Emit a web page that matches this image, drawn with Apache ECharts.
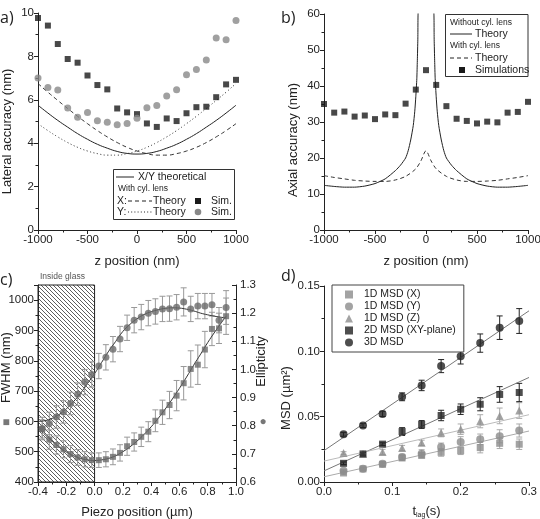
<!doctype html>
<html>
<head>
<meta charset="UTF-8">
<title>Localization accuracy and MSD</title>
<script src="https://cdn.jsdelivr.net/npm/echarts@6/dist/echarts.min.js"></script>
<style>
    html, body {margin: 0; padding: 0; background: #fff;}
    #main {width: 540px; height: 519px;}
</style>
</head>
<body>
<div id="main"></div>
<script>
// ---- a) lateral accuracy ----
var zPos = [-1000, -900, -800, -700, -600, -500, -400, -300, -200, -100, 0, 100, 200, 300, 400, 500, 600, 700, 800, 900, 1000];
var xSimA = [9.77, 9.42, 8.57, 7.88, 7.71, 7.12, 6.68, 6.48, 5.6, 5.42, 5.34, 4.91, 4.75, 5.14, 5.02, 5.38, 5.66, 5.68, 6.12, 6.71, 6.92];
var ySimA = [7.0, 6.57, 6.45, 5.62, 5.2, 5.42, 5.03, 4.97, 4.85, 4.91, 5.15, 5.63, 5.74, 6.18, 6.46, 7.15, 7.4, 7.83, 8.85, 8.77, 9.66];
var xyTheoryA = [5.75, 5.39, 5.05, 4.74, 4.44, 4.18, 3.95, 3.77, 3.62, 3.53, 3.5, 3.53, 3.62, 3.77, 3.95, 4.18, 4.44, 4.74, 5.05, 5.39, 5.75];
var xTheoryA = [6.75, 6.35, 5.97, 5.6, 5.24, 4.9, 4.58, 4.29, 4.03, 3.81, 3.64, 3.52, 3.45, 3.45, 3.52, 3.64, 3.81, 4.03, 4.29, 4.58, 4.9];
var yTheoryA = [4.9, 4.58, 4.29, 4.03, 3.81, 3.64, 3.52, 3.45, 3.45, 3.52, 3.64, 3.81, 4.03, 4.29, 4.58, 4.9, 5.24, 5.6, 5.97, 6.35, 6.75];

// ---- b) axial accuracy ----
var simB = [35.0, 32.6, 32.9, 31.5, 31.8, 30.8, 32.1, 31.9, 35.1, 39.0, 44.4, 40.3, 34.4, 30.9, 30.3, 29.6, 30.1, 29.9, 32.6, 32.8, 35.6];
var lensZ = [-1000, -900, -800, -700, -600, -500, -400, -300, -200, -100, -50, 0, 50, 100, 200, 300, 400, 500, 600, 700, 800, 900, 1000];
var lensTheoryB = [15.1, 14.6, 14.2, 13.8, 13.6, 13.5, 13.5, 13.9, 14.9, 17.0, 19.2, 22, 19.2, 17.0, 14.9, 13.9, 13.5, 13.5, 13.6, 13.8, 14.2, 14.6, 15.1];
var noLensZ = [-1000, -900, -800, -700, -600, -500, -400, -300, -250, -200, -175, -150, -125, -110, -100, -90, -85, -80, -75,
    75, 80, 85, 90, 100, 110, 125, 150, 175, 200, 250, 300, 400, 500, 600, 700, 800, 900, 1000];
var noLensTheoryB = [12.4, 12.1, 11.9, 11.9, 12.2, 12.9, 14.2, 16.5, 18.0, 20.0, 22.0, 25.0, 29, 33, 37, 42, 47, 53, 61,
    61, 53, 47, 42, 37, 33, 29, 25.0, 22.0, 20.0, 18.0, 16.5, 14.2, 12.9, 12.2, 11.9, 11.9, 12.1, 12.4];

// ---- c) FWHM and ellipticity vs piezo position ----
var piezo = [-0.37, -0.32, -0.27, -0.22, -0.17, -0.12, -0.07, -0.02, 0.03, 0.08, 0.13, 0.18, 0.23, 0.28, 0.33, 0.38, 0.43, 0.48, 0.53, 0.58, 0.63, 0.68, 0.73, 0.78, 0.83, 0.88, 0.93];
var fwhm = [575, 540, 522, 508, 492, 481, 475, 472, 472, 475, 483, 496, 518, 532, 549, 566, 602, 630, 654, 685, 726, 773, 787, 837, 905, 907, 947];
var fwhmErr = [30, 32, 30, 28, 28, 26, 25, 24, 24, 25, 26, 27, 30, 30, 32, 33, 36, 40, 45, 50, 55, 60, 65, 60, 55, 50, 60];
var ellip = [0.79, 0.808, 0.831, 0.849, 0.879, 0.912, 0.955, 0.982, 1.012, 1.043, 1.072, 1.108, 1.148, 1.175, 1.186, 1.2, 1.206, 1.215, 1.216, 1.221, 1.24, 1.215, 1.225, 1.225, 1.23, 1.175, 1.22];
var ellipErr = [0.04, 0.04, 0.04, 0.04, 0.04, 0.04, 0.045, 0.045, 0.045, 0.045, 0.045, 0.045, 0.045, 0.045, 0.045, 0.045, 0.045, 0.045, 0.045, 0.045, 0.05, 0.045, 0.045, 0.045, 0.04, 0.045, 0.06];
var fitPiezo = [-0.4, -0.35, -0.3, -0.25, -0.2, -0.15, -0.1, -0.05, 0, 0.05, 0.1, 0.15, 0.2, 0.25, 0.3, 0.35, 0.4, 0.45, 0.5, 0.55, 0.6, 0.65, 0.7, 0.75, 0.8, 0.85, 0.9, 0.93];
var fwhmFit = [580, 556, 535, 516, 499, 487, 478, 473, 471, 473, 478, 487, 500, 516, 535, 557, 582, 610, 641, 674, 709, 746, 785, 822, 860, 895, 928, 947];
var ellipFit = [0.815, 0.818, 0.826, 0.84, 0.86, 0.885, 0.915, 0.95, 0.985, 1.025, 1.065, 1.1, 1.135, 1.16, 1.18, 1.195, 1.205, 1.212, 1.217, 1.219, 1.218, 1.214, 1.208, 1.2, 1.194, 1.189, 1.185, 1.183];

// ---- d) MSD vs lag time ----
var tLag = [0.0286, 0.0571, 0.0857, 0.1143, 0.1429, 0.1714, 0.2, 0.2286, 0.2571, 0.2857];
var msdX = [0.0069, 0.0100, 0.0135, 0.0184, 0.0204, 0.0227, 0.0240, 0.0263, 0.0296, 0.0289];
var msdXErr = [0.001, 0.001, 0.0015, 0.002, 0.002, 0.003, 0.003, 0.004, 0.004, 0.004];
var msdY = [0.0087, 0.0102, 0.0140, 0.0192, 0.0217, 0.0268, 0.0307, 0.0327, 0.0350, 0.0394];
var msdYErr = [0.001, 0.001, 0.0015, 0.002, 0.003, 0.003, 0.004, 0.004, 0.005, 0.005];
var msdZ = [0.0222, 0.0215, 0.0230, 0.0260, 0.0300, 0.0376, 0.0404, 0.0465, 0.0506, 0.0547];
var msdZErr = [0.001, 0.001, 0.002, 0.002, 0.002, 0.003, 0.004, 0.005, 0.006, 0.006];
var msd2D = [0.0143, 0.0215, 0.0290, 0.0386, 0.0440, 0.0509, 0.0557, 0.0595, 0.0670, 0.0685];
var msd2DErr = [0.001, 0.001, 0.001, 0.003, 0.003, 0.004, 0.004, 0.005, 0.006, 0.007];
var msd3D = [0.0365, 0.0432, 0.0521, 0.0652, 0.0739, 0.0887, 0.0963, 0.1063, 0.1181, 0.1232];
var msd3DErr = [0.0015, 0.0015, 0.002, 0.003, 0.004, 0.005, 0.006, 0.007, 0.009, 0.0095];
var fitT = [0, 0.3];
var fit3D = [0.024, 0.131];
var fit2D = [0.0085, 0.080];
var fitZ = [0.016, 0.0515];
var fitXY = [0.004, 0.039];

var FONT = 'Liberation Sans, Arial, sans-serif';
var INK = '#222';

function zip(xs, ys) {
    return xs.map(function (x, i) { return [x, ys[i]]; });
}
function zip3(xs, ys, es) {
    return xs.map(function (x, i) { return [x, ys[i], es[i]]; });
}

var plain = function (v) { return String(v); };
var f1 = function (v) { return v.toFixed(1); };
var f2 = function (v) { return v.toFixed(2); };

function valAxis(o, fmt, namePad) {
    var a = {
        type: 'value',
        splitLine: {show: false},
        axisLine: {show: true, onZero: false, lineStyle: {color: INK, width: 1}},
        axisTick: {show: true, length: 4, lineStyle: {color: INK}},
        minorTick: {show: true, splitNumber: 2, length: 2.5, lineStyle: {color: INK}},
        axisLabel: {color: INK, fontSize: 11.5, fontFamily: FONT, margin: 4, formatter: fmt || plain},
        nameLocation: 'middle',
        nameMoveOverlap: false,
        nameTextStyle: {color: INK, fontSize: 13, fontFamily: FONT, padding: namePad || 0}
    };
    for (var k in o) a[k] = o[k];
    return a;
}

// error bars with caps, drawn through the axis scales
function errBar(color, cap) {
    return function (params, api) {
        var x = api.value(0), y = api.value(1), e = api.value(2);
        var hi = api.coord([x, y + e]), lo = api.coord([x, y - e]);
        var st = {stroke: color, lineWidth: 1};
        return {
            type: 'group', children: [
                {type: 'line', shape: {x1: hi[0], y1: hi[1], x2: lo[0], y2: lo[1]}, style: st},
                {type: 'line', shape: {x1: hi[0] - cap, y1: hi[1], x2: hi[0] + cap, y2: hi[1]}, style: st},
                {type: 'line', shape: {x1: lo[0] - cap, y1: lo[1], x2: lo[0] + cap, y2: lo[1]}, style: st}
            ]
        };
    };
}

// hatch pattern for the "inside glass" region
var hatch = document.createElement('canvas');
hatch.width = 4;
hatch.height = 4;
var hg = hatch.getContext('2d');
hg.strokeStyle = '#333';
hg.lineWidth = 0.8;
hg.beginPath();
hg.moveTo(-1, -1); hg.lineTo(5, 5);
hg.moveTo(-1, 3); hg.lineTo(1, 5);
hg.moveTo(3, -1); hg.lineTo(5, 1);
hg.stroke();

function txt(x, y, s, size, opt) {
    opt = opt || {};
    return {
        type: 'text', x: x, y: y, z: 101, silent: true,
        style: {
            text: s, fontSize: size, fontFamily: opt.font || FONT, fill: opt.color || INK,
            align: opt.align || 'left', verticalAlign: 'middle'
        }
    };
}
function seg(x1, y1, x2, y2, dash) {
    return {
        type: 'line', z: 101, silent: true,
        shape: {x1: x1, y1: y1, x2: x2, y2: y2},
        style: {stroke: INK, lineWidth: 1, lineDash: dash || null}
    };
}

var myChart = echarts.init(document.getElementById('main'));

var option = {
    animation: false,
    grid: [
        {left: 38, top: 13, width: 198, height: 217, containLabel: false, outerBoundsMode: 'none'},
        {left: 324, top: 14, width: 204, height: 216, containLabel: false, outerBoundsMode: 'none'},
        {left: 38, top: 285, width: 198, height: 197, containLabel: false, outerBoundsMode: 'none'},
        {left: 324, top: 286, width: 205, height: 196, containLabel: false, outerBoundsMode: 'none'}
    ],
    xAxis: [
        valAxis({gridIndex: 0, min: -1000, max: 1000, interval: 500, name: 'z position (nm)', nameGap: 25}),
        valAxis({gridIndex: 1, min: -1000, max: 1000, interval: 500, name: 'z position (nm)', nameGap: 25}),
        valAxis({gridIndex: 2, min: -0.4, max: 1.0, interval: 0.2, name: 'Piezo position (µm)', nameGap: 24}, f1),
        valAxis({
            gridIndex: 3, min: 0, max: 0.3, interval: 0.1, nameGap: 21,
            name: '{t|t}{s|lag}{t|(s)}',
            nameTextStyle: {
                color: INK, fontFamily: FONT,
                rich: {t: {fontSize: 13, fontFamily: FONT, color: INK}, s: {fontSize: 7, fontFamily: FONT, color: INK, padding: [9, 0, 0, 0]}}
            }
        }, f1)
    ],
    yAxis: [
        valAxis({gridIndex: 0, min: 0, max: 10, interval: 2, name: 'Lateral accuracy (nm)', nameGap: 24}, plain, [0, 20, 0, 0]),
        valAxis({gridIndex: 1, min: 0, max: 60, interval: 10, name: 'Axial accuracy (nm)', nameGap: 24}, plain, [0, 36, 0, 0]),
        valAxis({gridIndex: 2, min: 400, max: 1050, interval: 100, nameGap: 25, name: 'FWHM (nm)'},
            function (v) { return v === 1050 ? '' : String(v); }, [0, 0, 0, 32]),
        valAxis({
            gridIndex: 2, position: 'right', min: 0.6, max: 1.3, interval: 0.1, nameGap: 19,
            axisTick: {show: true, inside: true, length: 4, lineStyle: {color: INK}},
            minorTick: {show: true, splitNumber: 2, length: 2.5, lineStyle: {color: INK}},
            name: 'Ellipticity'
        }, f1, [0, 0, 0, 44]),
        valAxis({gridIndex: 3, min: 0, max: 0.15, interval: 0.05, name: 'MSD (µm²)', nameGap: 31}, f2, [0, 28, 0, 0])
    ],
    legend: [{
        data: ['1D MSD (X)', '1D MSD (Y)', '1D MSD (Z)', '2D MSD (XY-plane)', '3D MSD'],
        orient: 'vertical', left: 332, top: 285,
        borderColor: '#444', borderWidth: 1, backgroundColor: '#fff',
        padding: [4, 8, 4, 13], itemGap: 1, itemWidth: 8, itemHeight: 8,
        selectedMode: false,
        textStyle: {fontSize: 10.5, color: INK, fontFamily: FONT, lineHeight: 11, padding: [0, 0, 0, 6]}
    }],
    graphic: [
        // panel letters
        txt(0, 18, 'a)', 16, {font: 'Open Sans'}),
        txt(281, 18, 'b)', 16, {font: 'Open Sans'}),
        txt(0, 280, 'c)', 16, {font: 'Open Sans'}),
        txt(281, 276, 'd)', 16, {font: 'Open Sans'}),
        txt(40, 277, 'Inside glass', 8.5, {color: '#555'}),
        // series markers beside the axis names of c)
        txt(6, 423, '■', 12, {color: '#777', align: 'center'}),
        txt(263, 422, '●', 12, {color: '#777', align: 'center'}),

        // legend a)
        {type: 'rect', z: 100, silent: true, shape: {x: 113.5, y: 169.5, width: 121, height: 50}, style: {fill: '#fff', stroke: '#333', lineWidth: 1}},
        seg(116, 177, 134, 177),
        txt(138, 177, 'X/Y theoretical', 10.5),
        txt(118, 189, 'With cyl. lens', 8.5),
        txt(117, 201, 'X:', 10.5),
        seg(128, 201, 152, 201, [4, 3]),
        txt(153, 201, 'Theory', 10.5),
        {type: 'rect', z: 101, silent: true, shape: {x: 195, y: 198, width: 6, height: 6}, style: {fill: '#1a1a1a'}},
        txt(211, 201, 'Sim.', 10.5),
        txt(117, 212, 'Y:', 10.5),
        seg(128, 212, 152, 212, [1, 2.2]),
        txt(153, 212, 'Theory', 10.5),
        {type: 'circle', z: 101, silent: true, shape: {cx: 198, cy: 212, r: 3.3}, style: {fill: '#888'}},
        txt(211, 212, 'Sim.', 10.5),

        // legend b)
        {type: 'rect', z: 100, silent: true, shape: {x: 445.5, y: 14.5, width: 82.5, height: 62}, style: {fill: '#fff', stroke: '#333', lineWidth: 1}},
        txt(450, 23, 'Without cyl. lens', 8.5),
        seg(450, 34, 472, 34),
        txt(475, 34, 'Theory', 10.5),
        txt(450, 46, 'With cyl. lens', 8.5),
        seg(450, 58, 472, 58, [4, 3]),
        txt(475, 58, 'Theory', 10.5),
        {type: 'rect', z: 101, silent: true, shape: {x: 459, y: 67, width: 6, height: 6}, style: {fill: '#1a1a1a'}},
        txt(475, 70, 'Simulations', 10.5)
    ],
    series: [
        // a)
        {type: 'line', xAxisIndex: 0, yAxisIndex: 0, data: zip(zPos, xyTheoryA), smooth: true, symbol: 'none', lineStyle: {color: INK, width: 1}},
        {type: 'line', xAxisIndex: 0, yAxisIndex: 0, data: zip(zPos, xTheoryA), smooth: true, symbol: 'none', lineStyle: {color: '#333', width: 1, type: [4, 3]}},
        {type: 'line', xAxisIndex: 0, yAxisIndex: 0, data: zip(zPos, yTheoryA), smooth: true, symbol: 'none', lineStyle: {color: '#333', width: 1, type: [1, 2.5]}},
        {type: 'scatter', xAxisIndex: 0, yAxisIndex: 0, data: zip(zPos, xSimA), symbol: 'rect', symbolSize: 6, itemStyle: {color: '#1a1a1a'}, z: 4},
        {type: 'scatter', xAxisIndex: 0, yAxisIndex: 0, data: zip(zPos, ySimA), symbol: 'circle', symbolSize: 7, itemStyle: {color: '#888'}, z: 4},

        // b)
        {type: 'line', xAxisIndex: 1, yAxisIndex: 1, data: zip(noLensZ, noLensTheoryB), smooth: 0.2, symbol: 'none', clip: true, lineStyle: {color: INK, width: 1}},
        {type: 'line', xAxisIndex: 1, yAxisIndex: 1, data: zip(lensZ, lensTheoryB), smooth: 0.3, symbol: 'none', lineStyle: {color: '#333', width: 1, type: [4, 3]}},
        {type: 'scatter', xAxisIndex: 1, yAxisIndex: 1, data: zip(zPos, simB), symbol: 'rect', symbolSize: 6, itemStyle: {color: '#1a1a1a'}, z: 4},

        // c)
        {
            type: 'line', xAxisIndex: 2, yAxisIndex: 2, data: zip(fitPiezo, fwhmFit), smooth: true, symbol: 'none',
            lineStyle: {color: '#333', width: 1}, z: 3,
            markArea: {
                silent: true,
                itemStyle: {color: {image: hatch, repeat: 'repeat'}, borderColor: INK, borderWidth: 1},
                data: [[{xAxis: -0.4, yAxis: 400}, {xAxis: 0, yAxis: 1050}]]
            }
        },
        {type: 'line', xAxisIndex: 2, yAxisIndex: 3, data: zip(fitPiezo, ellipFit), smooth: true, symbol: 'none', lineStyle: {color: '#333', width: 1}, z: 3},
        {type: 'custom', xAxisIndex: 2, yAxisIndex: 2, data: zip3(piezo, fwhm, fwhmErr), renderItem: errBar('#999', 3), silent: true, z: 2},
        {type: 'custom', xAxisIndex: 2, yAxisIndex: 3, data: zip3(piezo, ellip, ellipErr), renderItem: errBar('#999', 3), silent: true, z: 2},
        {type: 'scatter', xAxisIndex: 2, yAxisIndex: 2, data: zip(piezo, fwhm), symbol: 'rect', symbolSize: 6, itemStyle: {color: '#6a6a6a'}, z: 4},
        {type: 'scatter', xAxisIndex: 2, yAxisIndex: 3, data: zip(piezo, ellip), symbol: 'circle', symbolSize: 7, itemStyle: {color: '#6a6a6a'}, z: 4},

        // d)
        {type: 'line', xAxisIndex: 3, yAxisIndex: 4, data: zip(fitT, fit3D), symbol: 'none', lineStyle: {color: '#777', width: 1}},
        {type: 'line', xAxisIndex: 3, yAxisIndex: 4, data: zip(fitT, fit2D), symbol: 'none', lineStyle: {color: '#777', width: 1}},
        {type: 'line', xAxisIndex: 3, yAxisIndex: 4, data: zip(fitT, fitZ), symbol: 'none', lineStyle: {color: '#bbb', width: 1}},
        {type: 'line', xAxisIndex: 3, yAxisIndex: 4, data: zip(fitT, fitXY), symbol: 'none', lineStyle: {color: '#aaa', width: 1}},
        {type: 'custom', xAxisIndex: 3, yAxisIndex: 4, data: zip3(tLag, msdX, msdXErr), renderItem: errBar('#aaa', 3), silent: true},
        {type: 'custom', xAxisIndex: 3, yAxisIndex: 4, data: zip3(tLag, msdY, msdYErr), renderItem: errBar('#aaa', 3), silent: true},
        {type: 'custom', xAxisIndex: 3, yAxisIndex: 4, data: zip3(tLag, msdZ, msdZErr), renderItem: errBar('#aaa', 3), silent: true},
        {type: 'custom', xAxisIndex: 3, yAxisIndex: 4, data: zip3(tLag, msd2D, msd2DErr), renderItem: errBar('#222', 3), silent: true},
        {type: 'custom', xAxisIndex: 3, yAxisIndex: 4, data: zip3(tLag, msd3D, msd3DErr), renderItem: errBar('#222', 3), silent: true},
        {name: '1D MSD (X)', type: 'scatter', xAxisIndex: 3, yAxisIndex: 4, data: zip(tLag, msdX), symbol: 'rect', symbolSize: 7, itemStyle: {color: '#8c8c8c'}, z: 4},
        {name: '1D MSD (Y)', type: 'scatter', xAxisIndex: 3, yAxisIndex: 4, data: zip(tLag, msdY), symbol: 'circle', symbolSize: 8, itemStyle: {color: '#8c8c8c'}, z: 4},
        {name: '1D MSD (Z)', type: 'scatter', xAxisIndex: 3, yAxisIndex: 4, data: zip(tLag, msdZ), symbol: 'triangle', symbolSize: 8, itemStyle: {color: '#8c8c8c'}, z: 4},
        {name: '2D MSD (XY-plane)', type: 'scatter', xAxisIndex: 3, yAxisIndex: 4, data: zip(tLag, msd2D), symbol: 'rect', symbolSize: 7, itemStyle: {color: '#222'}, z: 4},
        {name: '3D MSD', type: 'scatter', xAxisIndex: 3, yAxisIndex: 4, data: zip(tLag, msd3D), symbol: 'circle', symbolSize: 8, itemStyle: {color: '#222'}, z: 4}
    ]
};

myChart.setOption(option);
</script>
</body>
</html>
